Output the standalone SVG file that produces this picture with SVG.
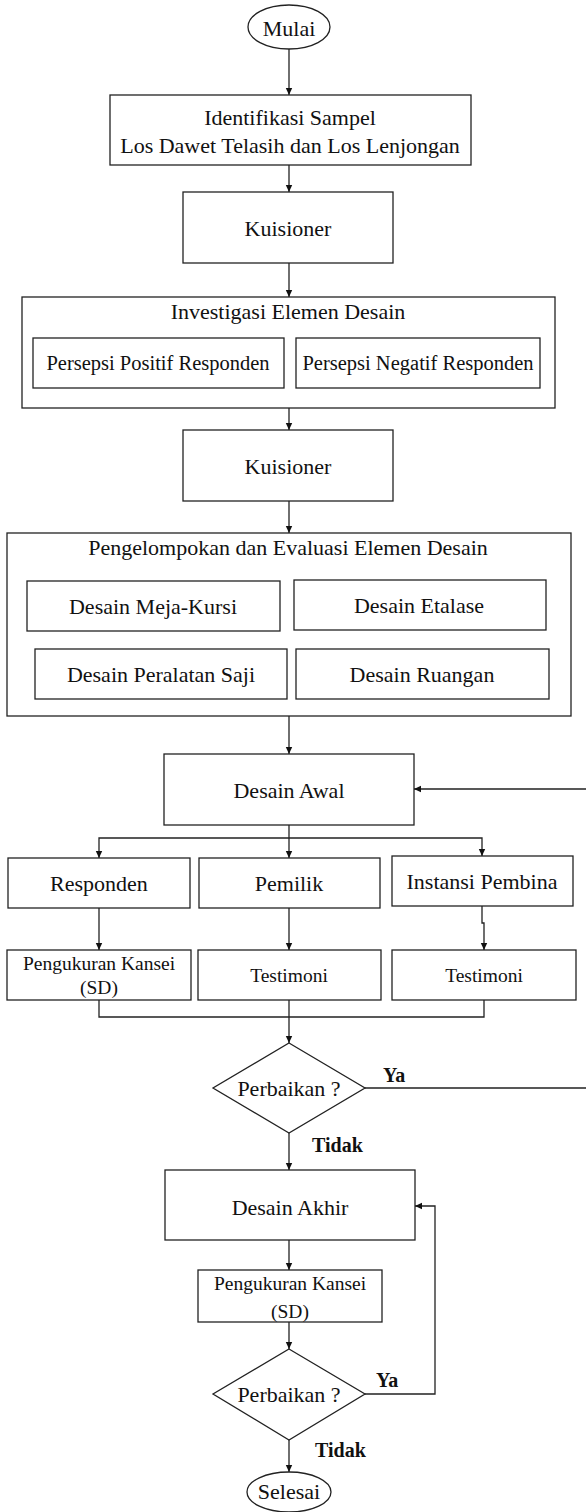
<svg xmlns="http://www.w3.org/2000/svg" width="586" height="1512" viewBox="0 0 586 1512">
<style>
.b{fill:#fff;stroke:#222;stroke-width:1.3}
.c{fill:none;stroke:#222;stroke-width:1.3}
.t{font-family:"Liberation Serif","Times New Roman",serif;font-size:22px;fill:#111;text-anchor:middle}
.s{font-size:19.5px}
.m{font-size:20.5px}
.y{font-family:"Liberation Serif","Times New Roman",serif;font-size:20px;font-weight:bold;fill:#111}
</style>
<defs>
<marker id="a" markerWidth="8" markerHeight="8" refX="7" refY="4" orient="auto" markerUnits="userSpaceOnUse">
<path d="M0,0.8 L7,4 L0,7.2 Z" fill="#111"/>
</marker>
</defs>
<rect width="586" height="1512" fill="#fff"/>
<g id="connectors">
<path class="c" d="M289,49 V95" marker-end="url(#a)"/>
<path class="c" d="M289,165 V192" marker-end="url(#a)"/>
<path class="c" d="M289,263 V297" marker-end="url(#a)"/>
<path class="c" d="M289,408 V430" marker-end="url(#a)"/>
<path class="c" d="M289,501 V533" marker-end="url(#a)"/>
<path class="c" d="M289,716 V754" marker-end="url(#a)"/>
<path class="c" d="M289,825 V858" marker-end="url(#a)"/>
<path class="c" d="M289,838 H99 V858" marker-end="url(#a)"/>
<path class="c" d="M289,838 H482 V856" marker-end="url(#a)"/>
<path class="c" d="M99,908 V950" marker-end="url(#a)"/>
<path class="c" d="M289,908 V950" marker-end="url(#a)"/>
<path class="c" d="M482,906 V923 H484 V950" marker-end="url(#a)"/>
<path class="c" d="M99,1000 V1017 H484 V1000"/>
<path class="c" d="M289,1000 V1043" marker-end="url(#a)"/>
<path class="c" d="M365,1088 H587 V789 H414" marker-end="url(#a)"/>
<path class="c" d="M289,1133 V1170" marker-end="url(#a)"/>
<path class="c" d="M289,1240 V1270" marker-end="url(#a)"/>
<path class="c" d="M289,1322 V1349" marker-end="url(#a)"/>
<path class="c" d="M365,1394 H435 V1206 H415" marker-end="url(#a)"/>
<path class="c" d="M289,1440 V1472" marker-end="url(#a)"/>
</g>
<g id="mulai"><ellipse class="b" cx="289" cy="27" rx="41" ry="22"/><text class="t" x="289" y="36">Mulai</text></g>
<g id="identifikasi"><rect class="b" x="110" y="95" width="361" height="70"/><text class="t" x="290" y="125">Identifikasi Sampel</text><text class="t" x="290" y="153">Los Dawet Telasih dan Los Lenjongan</text></g>
<g id="kuisioner1"><rect class="b" x="183" y="192" width="210" height="71"/><text class="t" x="288" y="236">Kuisioner</text></g>
<g id="investigasi"><rect class="b" x="22" y="297" width="533" height="111"/><text class="t" x="288" y="319">Investigasi Elemen Desain</text></g>
<g id="positif"><rect class="b" x="33" y="338" width="251" height="50"/><text class="t m" x="158" y="370">Persepsi Positif Responden</text></g>
<g id="negatif"><rect class="b" x="296" y="338" width="244" height="50"/><text class="t m" x="418" y="370">Persepsi Negatif Responden</text></g>
<g id="kuisioner2"><rect class="b" x="183" y="430" width="210" height="71"/><text class="t" x="288" y="474">Kuisioner</text></g>
<g id="pengelompokan"><rect class="b" x="7" y="533" width="564" height="183"/><text class="t" x="288" y="555">Pengelompokan dan Evaluasi Elemen Desain</text></g>
<g id="mejakursi"><rect class="b" x="27" y="581" width="253" height="50"/><text class="t" x="153" y="614">Desain Meja-Kursi</text></g>
<g id="etalase"><rect class="b" x="294" y="580" width="252" height="50"/><text class="t" x="419" y="613">Desain Etalase</text></g>
<g id="peralatan"><rect class="b" x="35" y="649" width="252" height="50"/><text class="t" x="161" y="682">Desain Peralatan Saji</text></g>
<g id="ruangan"><rect class="b" x="296" y="649" width="253" height="50"/><text class="t" x="422" y="682">Desain Ruangan</text></g>
<g id="desainawal"><rect class="b" x="164" y="754" width="250" height="71"/><text class="t" x="289" y="798">Desain Awal</text></g>
<g id="responden"><rect class="b" x="8" y="858" width="182" height="50"/><text class="t" x="99" y="891">Responden</text></g>
<g id="pemilik"><rect class="b" x="199" y="858" width="181" height="50"/><text class="t" x="289" y="891">Pemilik</text></g>
<g id="instansi"><rect class="b" x="392" y="856" width="181" height="50"/><text class="t" x="482" y="889">Instansi Pembina</text></g>
<g id="pengukuran1"><rect class="b" x="7" y="950" width="184" height="50"/><text class="t s" x="99" y="970">Pengukuran Kansei</text><text class="t s" x="99" y="994">(SD)</text></g>
<g id="testimoni1"><rect class="b" x="198" y="950" width="183" height="50"/><text class="t s" x="289" y="982">Testimoni</text></g>
<g id="testimoni2"><rect class="b" x="392" y="950" width="184" height="50"/><text class="t s" x="484" y="982">Testimoni</text></g>
<g id="perbaikan1"><polygon class="b" points="289,1043 365,1088 289,1133 213,1088"/><text class="t" x="289" y="1096">Perbaikan ?</text></g>
<g id="label-ya1"><text class="y" x="383" y="1082">Ya</text></g>
<g id="label-tidak1"><text class="y" x="312" y="1152">Tidak</text></g>
<g id="desainakhir"><rect class="b" x="165" y="1170" width="250" height="70"/><text class="t" x="290" y="1215">Desain Akhir</text></g>
<g id="pengukuran2"><rect class="b" x="198" y="1270" width="184" height="52"/><text class="t s" x="290" y="1290">Pengukuran Kansei</text><text class="t s" x="290" y="1318">(SD)</text></g>
<g id="perbaikan2"><polygon class="b" points="289,1349 365,1394 289,1440 213,1394"/><text class="t" x="289" y="1402">Perbaikan ?</text></g>
<g id="label-ya2"><text class="y" x="376" y="1387">Ya</text></g>
<g id="label-tidak2"><text class="y" x="315" y="1457">Tidak</text></g>
<g id="selesai"><ellipse class="b" cx="289" cy="1492" rx="42" ry="20"/><text class="t" x="289" y="1499">Selesai</text></g>
</svg>
